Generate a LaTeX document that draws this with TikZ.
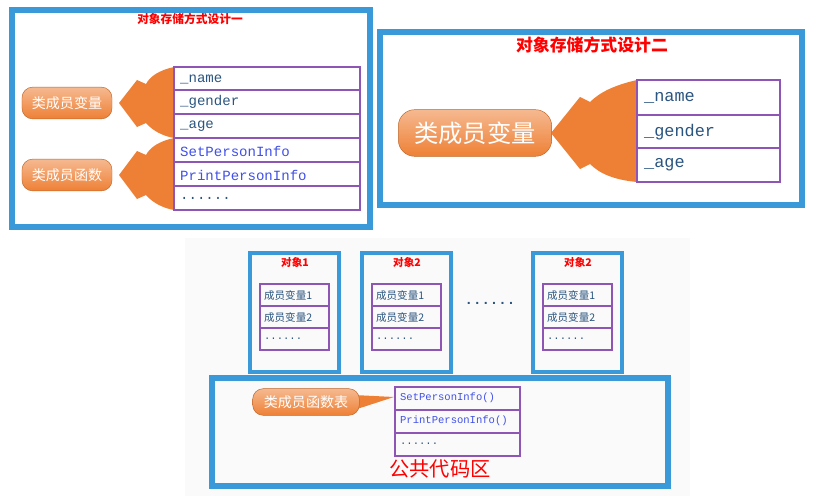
\documentclass[tikz,border=0pt]{standalone}
\usepackage{fontspec}
\setmonofont{Liberation Mono}
\newfontfamily\cjk{Noto Sans CJK SC}
\usetikzlibrary{positioning}
\definecolor{frameblue}{HTML}{3A9AD9}
\definecolor{cellpurple}{HTML}{8E55B5}
\definecolor{varblue}{HTML}{2B5580}
\definecolor{funblue}{HTML}{4050E8}
\definecolor{pillorange}{HTML}{EE8035}

\begin{document}
\begin{tikzpicture}[x=0.03cm,y=-0.03cm,
    frame/.style={draw=frameblue,line width=4.5pt},
    cell/.style={draw=cellpurple,line width=1pt},
    title/.style={text=red,font={\cjk\bfseries}},
    var/.style={text=varblue,anchor=west,font={\ttfamily\large}},
    fun/.style={text=funblue,anchor=west,font={\ttfamily\large}},
    member/.style={text=varblue,anchor=west,font={\cjk\small}},
    pill/.style={draw=pillorange!80!black,rounded corners=9pt,
        top color=pillorange!55,bottom color=pillorange,
        text=white,font={\cjk}},
    wedge/.style={fill=pillorange},
    ]
    \useasboundingbox (0,0) rectangle (827,500);
    % bottom background
    \fill[gray!4] (185,238) rectangle (690,496);

    % Design one
    \draw[frame] (12,10) rectangle (370,227);
    \node[title,font={\cjk\bfseries}] (t1) at (190,19) {对象存储方式设计一};
    \fill[wedge] (174,67) .. controls (160,70) and (150,76) .. (146,84)
        -- (137,80) -- (119,103) -- (137,127) -- (146,123)
        .. controls (152,130) and (162,136) .. (174,138) -- cycle;
    \fill[wedge] (174,138) .. controls (160,141) and (150,147) .. (146,155)
        -- (137,151) -- (119,175) -- (137,199) -- (146,195)
        .. controls (152,202) and (162,208) .. (174,210) -- cycle;
    \foreach \y in {67,90,114,138,162,186}
        \draw[cell,fill=white] (174,\y) rectangle (360,\y+24);
    \node[var] (name1) at (176,79) {\_name};
    \node[var] (gender1) at (176,102) {\_gender};
    \node[var] (age1) at (176,126) {\_age};
    \node[fun] (set1) at (176,151) {SetPersonInfo};
    \node[fun] (print1) at (176,175) {PrintPersonInfo};
    \node[var] (more1) at (176,198) {......};
    \node[pill,minimum width=2.7cm,minimum height=0.95cm,font={\cjk\large}] (vars1) at (67,103) {类成员变量};
    \node[pill,minimum width=2.7cm,minimum height=0.95cm,font={\cjk\large}] (funs1) at (67,175) {类成员函数};

    % Design two
    \draw[frame] (380,32) rectangle (802,205);
    \node[title,font={\cjk\bfseries\Large}] (t2) at (592,45) {对象存储方式设计二};
    \fill[wedge] (637,80) .. controls (615,85) and (600,92) .. (590,102)
        -- (580,97) -- (551,133) -- (580,169) -- (590,164)
        .. controls (600,174) and (615,180) .. (637,182) -- cycle;
    \foreach \y/\h in {80/35,115/33,148/34}
        \draw[cell,fill=white] (637,\y) rectangle (780,\y+\h);
    \node[var,font={\ttfamily\Large}] (name2) at (640,98) {\_name};
    \node[var,font={\ttfamily\Large}] (gender2) at (640,132) {\_gender};
    \node[var,font={\ttfamily\Large}] (age2) at (640,165) {\_age};
    \node[pill,rounded corners=14pt,minimum width=4.6cm,minimum height=1.4cm,
        font={\cjk\huge}] (vars2) at (475,133) {类成员变量};

    % Objects
    \foreach \x/\n [count=\i] in {250/1,362/2,533/2} {
        \draw[frame,line width=3.5pt] (\x,253) rectangle (\x+89,372);
        \node[title,font={\cjk\bfseries\small}] (obj\i) at (\x+45,262) {对象\n};
        \foreach \y in {284,306,328}
            \draw[cell] (\x+10,\y) rectangle (\x+79,\y+22);
        \node[member] (m\i a) at (\x+10,295) {成员变量1};
        \node[member] (m\i b) at (\x+10,317) {成员变量2};
        \node[var,font={\ttfamily\small}] (m\i c) at (\x+10,339) {......};
    }
    \node[text=varblue,font={\ttfamily\bfseries\large}] (gap) at (490,303) {......};

    % Public code area
    \draw[frame] (212,378) rectangle (668,486);
    \foreach \y in {387,410,433}
        \draw[cell] (395,\y) rectangle (520,\y+23);
    \node[fun,font={\ttfamily\fontsize{9}{11}\selectfont}] (set2) at (396,398) {SetPersonInfo()};
    \node[fun,font={\ttfamily\fontsize{9}{11}\selectfont}] (print2) at (396,421) {PrintPersonInfo()};
    \node[var,font={\ttfamily\fontsize{9}{11}\selectfont}] (more2) at (396,444) {......};
    \fill[wedge] (354,395) -- (394,397) -- (354,410) -- cycle;
    \node[pill,minimum width=3.2cm,minimum height=0.8cm,font={\cjk\large}]
        (table) at (306,402) {类成员函数表};
    \node[text=red,font={\cjk\LARGE}] (pub) at (440,469) {公共代码区};
\end{tikzpicture}
\end{document}
